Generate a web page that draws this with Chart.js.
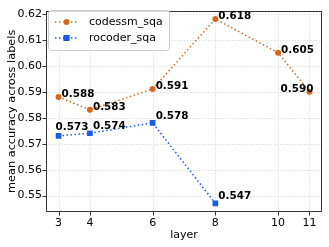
<!DOCTYPE html>
<html>
<head>
<meta charset="utf-8">
<script src="https://cdn.jsdelivr.net/npm/chart.js@4"></script>
<style>
  html, body { margin: 0; padding: 0; background: #fff; }
  #wrap { width: 329px; height: 247px; }
</style>
</head>
<body>
<div id="wrap"><canvas id="chart" width="329" height="247"></canvas></div>
<script>
// data
var layers = [3, 4, 6, 8, 10, 11];
var codessmLayers = [3, 4, 6, 8, 10, 11];
var codessmAcc = [0.588, 0.583, 0.591, 0.618, 0.605, 0.590];
var rocoderLayers = [3, 4, 6, 8];
var rocoderAcc = [0.573, 0.574, 0.578, 0.547];
var yTicks = [0.55, 0.56, 0.57, 0.58, 0.59, 0.60, 0.61, 0.62];

var ORANGE = '#d2691e';
var BLUE = '#1a5ae8';
var FONT = 'DejaVu Sans';

Chart.defaults.font.family = FONT;
Chart.defaults.color = '#000';

function pts(xs, ys) {
  return xs.map(function(x, i) { return { x: x, y: ys[i] }; });
}

// grid, frame, tick marks
var framePlugin = {
  id: 'frame',
  beforeDatasetsDraw: function(chart) {
    var ctx = chart.ctx, a = chart.chartArea;
    var xs = chart.scales.x, ys = chart.scales.y;
    ctx.save();
    ctx.strokeStyle = '#d9d9d9';
    ctx.lineWidth = 0.8;
    ctx.setLineDash([1.5, 1.5]);
    xs.ticks.forEach(function(t) {
      var px = Math.round(xs.getPixelForValue(t.value)) + 0.5;
      ctx.beginPath(); ctx.moveTo(px, a.top); ctx.lineTo(px, a.bottom); ctx.stroke();
    });
    ys.ticks.forEach(function(t) {
      var py = Math.round(ys.getPixelForValue(t.value)) + 0.5;
      ctx.beginPath(); ctx.moveTo(a.left, py); ctx.lineTo(a.right, py); ctx.stroke();
    });
    ctx.setLineDash([]);
    ctx.strokeStyle = '#333';
    ctx.lineWidth = 1;
    ctx.strokeRect(Math.round(a.left) + 0.5, Math.round(a.top) + 0.5,
      Math.round(a.right - a.left) - 1, Math.round(a.bottom - a.top) - 1);
    xs.ticks.forEach(function(t) {
      var px = Math.round(xs.getPixelForValue(t.value)) + 0.5;
      ctx.beginPath(); ctx.moveTo(px, a.bottom); ctx.lineTo(px, a.bottom + 3.5); ctx.stroke();
    });
    ys.ticks.forEach(function(t) {
      var py = Math.round(ys.getPixelForValue(t.value)) + 0.5;
      ctx.beginPath(); ctx.moveTo(a.left - 3.5, py); ctx.lineTo(a.left, py); ctx.stroke();
    });
    ctx.restore();
  }
};

// value labels next to each point
var labelPlugin = {
  id: 'valueLabels',
  afterDatasetsDraw: function(chart) {
    var ctx = chart.ctx, a = chart.chartArea;
    ctx.save();
    ctx.font = 'bold 10.4px ' + FONT;
    ctx.fillStyle = '#000';
    ctx.textBaseline = 'alphabetic';
    ctx.textAlign = 'left';
    chart.data.datasets.forEach(function(ds, di) {
      var meta = chart.getDatasetMeta(di);
      meta.data.forEach(function(el, i) {
        var txt = ds.data[i].y.toFixed(3);
        var w = ctx.measureText(txt).width;
        var x = el.x + 3, y = el.y;
        if (x + w > a.right) { x = el.x + 4 - w; }
        if (di === 1) { y = el.y - 4; }
        if (di === 1 && i === 0) { x = el.x - 3; y = el.y - 5.5; }
        ctx.fillText(txt, x, y);
      });
    });
    ctx.restore();
  }
};

// legend box inside the plot, top left
var legendPlugin = {
  id: 'boxLegend',
  afterDatasetsDraw: function(chart) {
    var ctx = chart.ctx;
    var bx = 48.5, by = 10.5, bw = 121, bh = 40, r = 3;
    ctx.save();
    ctx.fillStyle = 'rgba(255,255,255,0.8)';
    ctx.strokeStyle = '#cccccc';
    ctx.lineWidth = 1;
    ctx.beginPath();
    ctx.roundRect(bx, by, bw, bh, r);
    ctx.fill();
    ctx.stroke();
    chart.data.datasets.forEach(function(ds, di) {
      var y = 22 + di * 16;
      ctx.strokeStyle = ds.borderColor;
      ctx.lineWidth = ds.borderWidth;
      ctx.setLineDash(ds.borderDash);
      ctx.beginPath(); ctx.moveTo(55, y); ctx.lineTo(78, y); ctx.stroke();
      ctx.setLineDash([]);
      Chart.helpers.drawPoint(ctx, {
        pointStyle: ds.pointStyle, radius: ds.pointRadius, rotation: 0,
        borderWidth: 0
      }, 66.5, y);
      ctx.fillStyle = ds.pointBackgroundColor;
      ctx.fill();
      ctx.fillStyle = '#000';
      ctx.font = '11px ' + FONT;
      ctx.textBaseline = 'middle';
      ctx.textAlign = 'left';
      ctx.fillText(ds.label, 89, y + 0.5);
    });
    ctx.restore();
  }
};

new Chart(document.getElementById('chart'), {
  type: 'line',
  data: {
    datasets: [
      {
        label: 'codessm_sqa',
        data: pts(codessmLayers, codessmAcc),
        borderColor: ORANGE,
        backgroundColor: ORANGE,
        pointBackgroundColor: ORANGE,
        borderWidth: 1.5,
        borderDash: [1.5, 2.5],
        pointStyle: 'circle',
        pointRadius: 3,
        pointBorderWidth: 0,
        tension: 0
      },
      {
        label: 'rocoder_sqa',
        data: pts(rocoderLayers, rocoderAcc),
        borderColor: BLUE,
        backgroundColor: BLUE,
        pointBackgroundColor: BLUE,
        borderWidth: 1.5,
        borderDash: [1.5, 2.5],
        pointStyle: 'rect',
        pointRadius: 4,
        pointBorderWidth: 0,
        tension: 0
      }
    ]
  },
  options: {
    responsive: false,
    animation: false,
    events: [],
    layout: { padding: { left: 0, right: 7, top: 7, bottom: 0 } },
    plugins: {
      legend: { display: false },
      tooltip: { enabled: false }
    },
    scales: {
      x: {
        type: 'linear',
        min: 2.6,
        max: 11.4,
        afterBuildTicks: function(s) {
          s.ticks = layers.map(function(v) { return { value: v }; });
        },
        afterFit: function(s) { s.height = 35; },
        grid: { display: false, drawTicks: false },
        border: { display: false },
        ticks: {
          font: { size: 11 },
          padding: 5,
          maxRotation: 0,
          autoSkip: false,
          callback: function(v) { return String(v); }
        },
        title: {
          display: true,
          text: 'layer',
          font: { size: 11 },
          padding: { top: 2, bottom: 5 }
        }
      },
      y: {
        type: 'linear',
        min: 0.5437,
        max: 0.6212,
        afterBuildTicks: function(s) {
          s.ticks = yTicks.map(function(v) { return { value: v }; });
        },
        afterFit: function(s) { s.width = 46; },
        grid: { display: false, drawTicks: false },
        border: { display: false },
        ticks: {
          font: { size: 11 },
          padding: 4,
          autoSkip: false,
          callback: function(v) { return v.toFixed(2); }
        },
        title: {
          display: true,
          text: 'mean accuracy across labels',
          font: { size: 11.3 },
          padding: { top: 5, bottom: 2 }
        }
      }
    }
  },
  plugins: [framePlugin, labelPlugin, legendPlugin]
});
</script>
</body>
</html>
